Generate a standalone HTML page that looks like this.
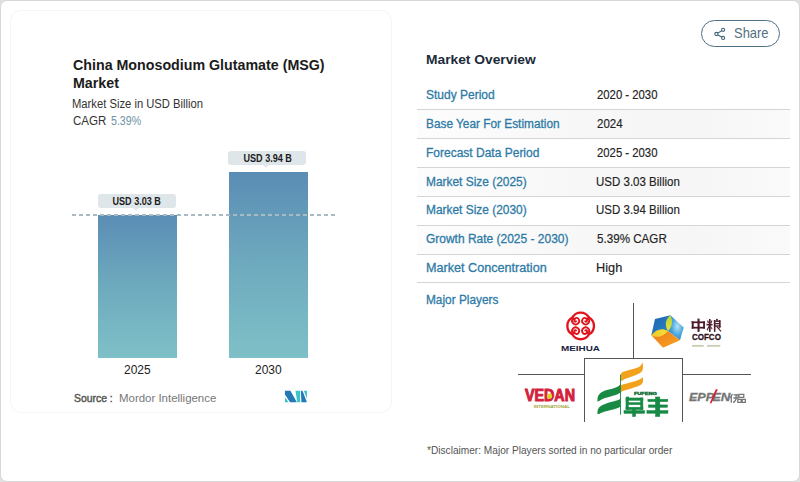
<!DOCTYPE html>
<html><head><meta charset="utf-8">
<style>
*{margin:0;padding:0;box-sizing:border-box}
html,body{width:800px;height:482px;overflow:hidden;background:#e0e0e0;font-family:"Liberation Sans",sans-serif}
.frame{position:absolute;left:0;top:0;width:800px;height:482px;border:1px solid #d8d8d8;border-radius:7px;background:#fff}
.card{position:absolute;left:10px;top:10px;width:382px;height:403px;border:1px solid #f5f5f5;border-radius:11px;background:#fff}
.t{position:absolute;white-space:nowrap;line-height:1;transform-origin:0 0}
.title{left:72.5px;font-size:14.5px;font-weight:bold;color:#1b1b1b;transform:scaleX(.982)}
.sub{left:72.5px;font-size:12.3px;color:#333}
.bar{position:absolute;background:linear-gradient(#5a8db4,#6eaabe 50%,#7ec0c7)}
.lbl{position:absolute;height:14px;background:#dfe6e9;border-radius:3px;font-size:10px;font-weight:bold;color:#1b1b1b;text-align:center;line-height:15px}
.lbl b{display:inline-block;transform:scaleX(.906)}
.lbl:after{content:"";position:absolute;left:50%;margin-left:-3.5px;bottom:-3px;border-left:3.5px solid transparent;border-right:3.5px solid transparent;border-top:3px solid #e6ecee}
.dash{position:absolute;left:72px;top:214px;width:264px;height:2px;background:repeating-linear-gradient(90deg,#a9bac3 0 4px,transparent 4px 7px)}
.year{font-size:12px;color:#222}
.share{position:absolute;left:701px;top:19.5px;width:79px;height:27px;border:1.3px solid #4f7086;border-radius:14px}
.share span{position:absolute;left:32.5px;top:5.5px;font-size:14px;color:#4a6a80;line-height:1}
.mo{left:427px;font-size:13.4px;font-weight:bold;color:#1c2b3a;transform:scaleX(1.03)}
.sep{position:absolute;left:417px;width:373px;height:1px;background:#d5d5d5}
.gbg{position:absolute;left:417px;width:373px;background:linear-gradient(90deg,#fdfdfd,#f7f7f7 45%,#f6f6f6 75%,#fafafa)}
.k{position:absolute;left:425.6px;font-size:12.5px;color:#2d7aa6;-webkit-text-stroke:.3px #2d7aa6;line-height:1;white-space:nowrap;transform-origin:0 0}
.v{position:absolute;left:596.5px;font-size:12.5px;color:#222;-webkit-text-stroke:.15px #222;line-height:1;white-space:nowrap;transform-origin:0 0}
.disc{left:427px;font-size:10.15px;color:#555}
</style></head><body>
<div class="frame"></div>
<div class="card"></div>

<div class="t title" style="top:57.7px">China Monosodium Glutamate (MSG)</div>
<div class="t title" style="top:75.8px">Market</div>
<div class="t sub" style="left:71.8px;top:97.5px;transform:scaleX(.913)">Market Size in USD Billion</div>
<div class="t sub" style="top:114.9px;transform:scaleX(.94)">CAGR</div>
<div class="t sub" style="left:110.7px;top:114.9px;color:#6e93a8;transform:scaleX(.865)">5.39%</div>

<div class="bar" style="left:98px;top:215px;width:79px;height:143px"></div>
<div class="bar" style="left:229px;top:172px;width:79px;height:186px"></div>
<div class="dash"></div>
<div class="lbl" style="left:98px;top:194px;width:77.5px"><b>USD 3.03 B</b></div>
<div class="lbl" style="left:228.2px;top:150.5px;width:77.6px;padding-left:1.5px"><b>USD 3.94 B</b></div>
<div class="t year" style="left:124px;top:364.3px">2025</div>
<div class="t year" style="left:255px;top:364.3px">2030</div>

<div class="t" style="left:74px;top:392.8px;font-size:11.5px;color:#555;-webkit-text-stroke:.45px #555;transform:scaleX(.905)">Source :</div>
<div class="t" style="left:119.3px;top:392.8px;font-size:11.5px;color:#777;transform:scaleX(.995)">Mordor Intelligence</div>
<svg style="position:absolute;left:281px;top:387px" width="30" height="19" viewBox="0 0 761 482">
<polygon points="100,262 100,390 192,390" fill="#3dbfc4"/>
<polygon points="100,95 240,95 402,390 230,390 100,192" fill="#2378b6"/>
<polygon points="368,95 485,95 485,390 412,390" fill="#38c6cc"/>
<polygon points="505,95 545,95 657,390 518,390" fill="#2378b6"/>
<polygon points="578,95 660,95 660,300" fill="#3dc2c8"/>
</svg>

<div class="share"></div><svg style="position:absolute;left:712px;top:26px" width="14" height="15" viewBox="712 26 14 15"><g fill="none" stroke="#3f6275" stroke-width="1.1"><circle cx="723.1" cy="29.8" r="1.55"/><circle cx="716.4" cy="34" r="1.6"/><circle cx="723.1" cy="37.9" r="1.55"/><path d="M717.8,33.1L721.7,30.7M717.8,34.9L721.7,37"/></g></svg><div class="t" style="left:734.2px;top:25.6px;font-size:14.8px;color:#52707f;transform:scaleX(.875)">Share</div>

<div class="t mo" style="top:53.2px;left:426.4px">Market Overview</div>

<!-- table -->
<div class="gbg" style="top:110px;height:28px"></div>
<div class="gbg" style="top:168px;height:28px"></div>
<div class="gbg" style="top:226px;height:27.5px"></div>
<div class="sep" style="top:109px"></div>
<div class="sep" style="top:138px"></div>
<div class="sep" style="top:167px"></div>
<div class="sep" style="top:196px"></div>
<div class="sep" style="top:225px"></div>
<div class="sep" style="top:253.5px"></div>
<div class="sep" style="top:281.5px"></div>

<div class="k" style="top:89.1px;transform:scaleX(.96)">Study Period</div>
<div class="k" style="top:117.9px;transform:scaleX(.947)">Base Year For Estimation</div>
<div class="k" style="top:146.7px;transform:scaleX(.96)">Forecast Data Period</div>
<div class="k" style="top:175.6px;transform:scaleX(.953)">Market Size (2025)</div>
<div class="k" style="top:204.4px;transform:scaleX(.953)">Market Size (2030)</div>
<div class="k" style="top:233.2px;transform:scaleX(.958)">Growth Rate (2025 - 2030)</div>
<div class="k" style="top:262.1px;transform:scaleX(1.01)">Market Concentration</div>
<div class="k" style="top:294.2px;transform:scaleX(.948)">Major Players</div>

<div class="v" style="top:89.1px;transform:scaleX(.906)">2020 - 2030</div>
<div class="v" style="top:117.9px;transform:scaleX(.92)">2024</div>
<div class="v" style="top:146.7px;transform:scaleX(.906)">2025 - 2030</div>
<div class="v" style="top:175.6px;left:595.6px;transform:scaleX(.921)">USD 3.03 Billion</div>
<div class="v" style="top:204.4px;left:595.6px;transform:scaleX(.921)">USD 3.94 Billion</div>
<div class="v" style="top:233.2px;transform:scaleX(.93)">5.39% CAGR</div>
<div class="v" style="top:262.1px;left:595.5px;transform:scaleX(1.02)">High</div>

<!-- logos grid -->
<div style="position:absolute;left:633px;top:303px;width:1px;height:56px;background:#555"></div>
<div style="position:absolute;left:518px;top:374px;width:67px;height:1px;background:#555"></div>
<div style="position:absolute;left:682px;top:374px;width:69px;height:1px;background:#555"></div>
<div style="position:absolute;left:584px;top:358px;width:99px;height:64px;border:1px solid #555;border-bottom:none"></div>

<!-- MEIHUA -->
<svg style="position:absolute;left:563px;top:309px" width="36" height="34" viewBox="0 0 510 482">
<g fill="none" stroke="#e0141c" stroke-width="33" stroke-linecap="round">
<path d="M131.8,121.8 A134.5,134.5 0 0 1 368.2,121.8 A134.5,134.5 0 0 1 368.2,358.2 A134.5,134.5 0 0 1 131.8,358.2 A134.5,134.5 0 0 1 131.8,121.8 Z"/>
<g stroke-width="26">
<path transform="translate(179,169)" d="M-50,-50 L-35.4,-35.4 A50,50 0 1 0 43.3,-25 A33,33 0 0 0 -18,-2 A13,13 0 0 0 6,5"/>
<path transform="translate(321,169) scale(-1,1)" d="M-50,-50 L-35.4,-35.4 A50,50 0 1 0 43.3,-25 A33,33 0 0 0 -18,-2 A13,13 0 0 0 6,5"/>
<path transform="translate(179,311) scale(1,-1)" d="M-50,-50 L-35.4,-35.4 A50,50 0 1 0 43.3,-25 A33,33 0 0 0 -18,-2 A13,13 0 0 0 6,5"/>
<path transform="translate(321,311) scale(-1,-1)" d="M-50,-50 L-35.4,-35.4 A50,50 0 1 0 43.3,-25 A33,33 0 0 0 -18,-2 A13,13 0 0 0 6,5"/>
</g></g></svg>
<div class="t" style="left:560.7px;top:345.5px;font-size:6.6px;font-weight:bold;color:#17223d;transform:scaleX(1.5)">MEIHUA</div>

<!-- COFCO -->
<svg style="position:absolute;left:645px;top:308px" width="40" height="44" viewBox="645 308 40 44">
<defs>
<linearGradient id="cb1" x1="0" y1="0" x2="1" y2="1"><stop offset="0" stop-color="#1b63ad"/><stop offset="1" stop-color="#2f86c8"/></linearGradient>
<radialGradient id="cb2" cx=".6" cy=".45" r=".6"><stop offset="0" stop-color="#b4e2f7"/><stop offset=".6" stop-color="#4aa6de"/><stop offset="1" stop-color="#2e86cc"/></radialGradient>
<linearGradient id="cb3" x1="0" y1="0" x2="1" y2="1"><stop offset="0" stop-color="#ee7a1e"/><stop offset="1" stop-color="#f7a51e"/></linearGradient>
<linearGradient id="lf1" x1="0" y1="1" x2="0" y2="0"><stop offset="0" stop-color="#f0e030"/><stop offset="1" stop-color="#b4d63c"/></linearGradient>
<linearGradient id="lf2" x1="1" y1="0" x2="0" y2="0"><stop offset="0" stop-color="#f3e234"/><stop offset="1" stop-color="#f2c62a"/></linearGradient>
</defs>
<polygon points="651.3,335.2 655,319 670.4,315.3 667.9,331.1" fill="url(#cb1)"/>
<polygon points="670.4,315.3 683.7,327.4 680,340.2 667.9,331.1" fill="url(#cb2)"/>
<polygon points="667.9,331.1 680,340.2 663,347.7 651.3,335.2" fill="url(#cb3)"/>
<path d="M667.9,331.1 C664.3,325 665.5,319 670.4,315.3 C673.2,321 672.2,327 667.9,331.1Z" fill="url(#lf1)"/>
<path d="M667.9,331.1 C662,327.3 656,329.5 651.3,335.2 C657,338.3 663,337 667.9,331.1Z" fill="url(#lf2)"/>
</svg>
<svg style="position:absolute;left:688px;top:316px" width="36" height="34" viewBox="0 0 510 482">
<g fill="#4b1a2a" stroke="#4b1a2a" stroke-width="2">
<rect x="55" y="78" width="25" height="100"/><rect x="215" y="78" width="25" height="100"/>
<rect x="55" y="78" width="185" height="22"/><rect x="55" y="155" width="185" height="22"/>
<rect x="136" y="40" width="27" height="185"/>
<rect x="298" y="45" width="22" height="180"/><rect x="265" y="113" width="82" height="20"/>
<polygon points="272,68 286,64 296,98 283,102"/><polygon points="330,64 344,68 334,102 322,98"/>
<polygon points="298,135 308,145 276,205 264,195"/><polygon points="320,140 346,180 336,188 314,150"/>
<rect x="402" y="42" width="20" height="25"/>
<rect x="368" y="65" width="20" height="160"/><rect x="368" y="65" width="92" height="18"/><rect x="440" y="65" width="20" height="85"/>
<rect x="368" y="100" width="92" height="16"/><rect x="368" y="133" width="92" height="17"/>
<polygon points="398,150 418,150 472,212 462,224"/><polygon points="430,170 460,145 468,155 440,178"/>
</g>
<text x="55" y="346" font-family="Liberation Sans" font-weight="bold" font-size="124" fill="#2e0f1a" stroke="#2e0f1a" stroke-width="4" textLength="412" lengthAdjust="spacingAndGlyphs">COFCO</text>
<g fill="#c6cfb2"><rect x="58" y="410" width="165" height="26"/><rect x="268" y="410" width="190" height="26"/></g>
</svg>

<!-- VEDAN -->
<div class="t" style="left:525.4px;top:388.2px;font-size:15.6px;font-weight:bold;color:#d41f3d;-webkit-text-stroke:1px #d41f3d;transform:scaleX(.915)">VEDAN</div>
<svg style="position:absolute;left:518px;top:383px" width="65" height="30" viewBox="0 0 800 369">
<circle cx="388" cy="162" r="32" fill="#dcd42a"/>
<text x="195" y="305" font-family="Liberation Sans" font-weight="bold" font-size="52" fill="#a3a636" textLength="445" lengthAdjust="spacingAndGlyphs">INTERNATIONAL</text>
</svg>

<!-- FUFENG -->
<svg style="position:absolute;left:594px;top:360px" width="52" height="60" viewBox="594 360 52 60">
<g fill="#f2a11b"><polygon points="620.8,374.7 621.3,373.2 622.5,372.1 625.0,371.2 630.0,369.7 634.0,368.7 637.0,367.8 639.5,366.7 641.3,364.8 642.2,363.1 642.6,361.9 642.9,364.8 643.0,367.2 642.7,369.6 641.8,371.6 640.0,373.1 637.0,374.6 634.0,375.8 630.0,377.2 626.0,378.6 623.0,380.1 620.8,381.6"/><polygon points="620.8,386.1 621.3,385.1 622.5,384.4 625.0,383.9 630.0,382.4 634.0,381.4 637.0,380.4 639.5,379.4 641.3,378.4 642.3,377.6 642.8,376.8 643.0,379.6 643.0,381.2 642.5,383.1 641.3,384.4 639.5,385.4 637.0,386.6 634.0,387.6 630.0,388.9 626.0,390.1 623.0,391.1 620.8,391.9"/></g>
<g fill="#188a44"><polygon points="597.4,401.8 597.6,397.4 598.5,395.2 600.0,393.4 601.5,392.2 605.0,390.6 609.0,389.4 613.0,388.4 616.4,387.2 618.5,386.2 620.6,384.1 620.6,392.4 618.5,393.8 616.4,394.8 613.0,395.8 609.0,396.9 605.0,398.1 601.5,399.6 599.0,401.1"/><polygon points="597.4,414.1 597.7,410.1 599.0,407.6 601.5,405.6 605.0,403.9 609.0,402.6 613.0,401.6 616.4,400.6 618.5,399.9 620.6,398.4 620.6,406.6 618.5,407.8 616.4,408.6 613.0,409.4 609.0,410.4 605.0,411.6 601.5,412.8 599.0,414.1"/>
<rect x="620.1" y="374.5" width="0.9" height="40.2"/></g>
</svg>
<svg style="position:absolute;left:620px;top:388px" width="52" height="32" viewBox="0 0 783 482">
<text x="210" y="100" font-family="Liberation Sans" font-weight="bold" font-size="50" fill="#16703a" stroke="#16703a" stroke-width="5" textLength="345" lengthAdjust="spacingAndGlyphs">FUFENG</text>
<g fill="#178a45" stroke="#178a45" stroke-width="8">
<rect x="100" y="135" width="32" height="35"/>
<rect x="90" y="150" width="255" height="35"/><rect x="90" y="150" width="35" height="175"/><rect x="310" y="150" width="35" height="175"/>
<rect x="125" y="220" width="205" height="30"/><rect x="90" y="290" width="255" height="35"/>
<rect x="60" y="340" width="310" height="42"/><rect x="190" y="325" width="45" height="105"/>
<rect x="420" y="170" width="300" height="35"/><rect x="430" y="255" width="285" height="35"/><rect x="405" y="340" width="317" height="40"/>
<rect x="535" y="135" width="65" height="295"/>
</g></svg>

<!-- EPPEN -->
<div class="t" style="left:688.5px;top:392.3px;font-size:11.8px;font-weight:bold;font-style:italic;color:#767676;-webkit-text-stroke:.3px #767676;transform:scaleX(1.06)">EPP</div>
<div class="t" style="left:712px;top:392.3px;font-size:11.8px;font-weight:bold;font-style:italic;color:#767676;-webkit-text-stroke:.3px #767676;transform:scaleX(1.12)">EN</div>
<svg style="position:absolute;left:686px;top:386px" width="64" height="20" viewBox="0 0 800 250">
<polygon points="372,40 398,40 318,215 296,215" fill="#d6203a"/>
<g fill="none" stroke="#777" stroke-width="16">
<path d="M580,98 L552,150 M566,125 L566,208"/>
<path d="M595,112 H652 V150 H592 M628,100 L625,165 Q615,195 588,208"/>
<path d="M662,106 H722 V142 H662 Z M648,168 H690 V204 H648 Z M702,168 H742 V204 H702 Z"/>
</g>
</svg>

<div class="t disc" style="top:445.6px">*Disclaimer: Major Players sorted in no particular order</div>
</body></html>
